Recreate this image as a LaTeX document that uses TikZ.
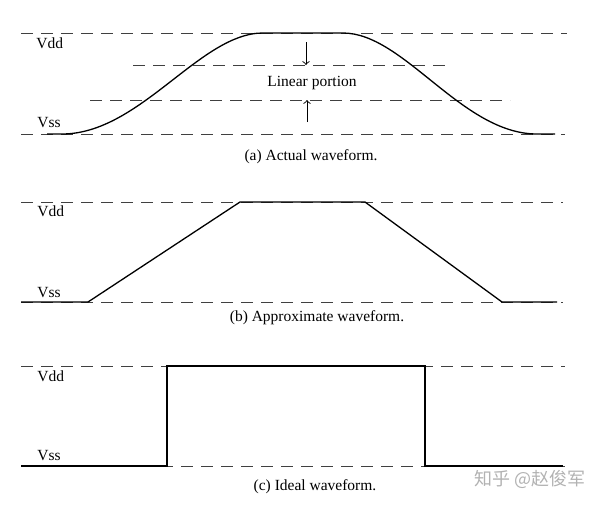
\documentclass[tikz,border=0pt]{standalone}
\usepackage{fontspec}
\setmainfont{Liberation Serif}
\newfontfamily\cjk{Noto Sans CJK SC}
\begin{document}
\begin{tikzpicture}[x=0.5pt,y=-0.5pt,
	level/.style={dash pattern=on 6pt off 4pt, line width=0.5pt, black!75},
	wave/.style={line width=0.65pt, black, line join=miter},
	label/.style={inner sep=0pt, anchor=west, font=\fontsize{7.75}{9}\selectfont},
	caption/.style={inner sep=0pt, font=\fontsize{7.75}{9}\selectfont},
	>=to]

	\useasboundingbox (0,0) rectangle (600,504);

	%Coordinates
	\coordinate (aTopL) at (21,33);	\coordinate (aTopR) at (567,33);
	\coordinate (aBotL) at (21,134);	\coordinate (aBotR) at (565,134);
	\coordinate (aHiL) at (133,65);	\coordinate (aHiR) at (447,65);
	\coordinate (aLoL) at (90,100);	\coordinate (aLoR) at (510,100);
	\coordinate (dnStart) at (306,42);	\coordinate (dnEnd) at (306,65);
	\coordinate (upStart) at (307,122);	\coordinate (upEnd) at (307,100);

	\coordinate (bTopL) at (21,202);	\coordinate (bTopR) at (563,202);
	\coordinate (bBotL) at (21,302);	\coordinate (bBotR) at (563,302);

	\coordinate (cTopL) at (21,366);	\coordinate (cTopR) at (565,366);
	\coordinate (cBotL) at (21,466);	\coordinate (cBotR) at (565,466);

	%Nodes
	\node[label]	(vddA)	at (36,43)	{Vdd};
	\node[label]	(vssA)	at (37,123)	{Vss};
	\node[caption]	(linear)	at (312,83)	{Linear portion};
	\node[caption]	(capA)	at (311,157)	{(a) Actual waveform.};

	\node[label]	(vddB)	at (37,211)	{Vdd};
	\node[label]	(vssB)	at (37,293)	{Vss};
	\node[caption]	(capB)	at (317,318)	{(b) Approximate waveform.};

	\node[label]	(vddC)	at (37,376)	{Vdd};
	\node[label]	(vssC)	at (37,456)	{Vss};
	\node[caption]	(capC)	at (315,487)	{(c) Ideal waveform.};

	\node[inner sep=0pt, text=black!30, font=\cjk\fontsize{9}{10}\selectfont]	(mark)	at (530,479)	{知乎 @赵俊军};

	%Lines
	\draw[level] (aTopL) -- (aTopR);
	\draw[level] (aBotL) -- (aBotR);
	\draw[level] (aHiL) -- (aHiR);
	\draw[level] (aLoL) -- (aLoR);
	\draw[level] (bTopL) -- (bTopR);
	\draw[level] (bBotL) -- (bBotR);
	\draw[level] (cTopL) -- (cTopR);
	\draw[level] (cBotL) -- (cBotR);

	\draw[black, line width=0.45pt, ->] (dnStart) -- (dnEnd);
	\draw[black, line width=0.45pt, ->] (upStart) -- (upEnd);

	%Waveforms
	\draw[wave] (47,134) -- (62,134) .. controls (140,134) and (200,33) .. (263,33)
		-- (343,33) .. controls (404,33) and (462,134) .. (537,134) -- (555,134);
	\draw[wave] (bBotL) -- (88,302) -- (240,202) -- (365,202) -- (502,302) -- (557,302);
	\draw[wave] (cBotL) -- (167,466) -- (167,366) -- (425,366) -- (425,466) -- (563,466);
\end{tikzpicture}
\end{document}
